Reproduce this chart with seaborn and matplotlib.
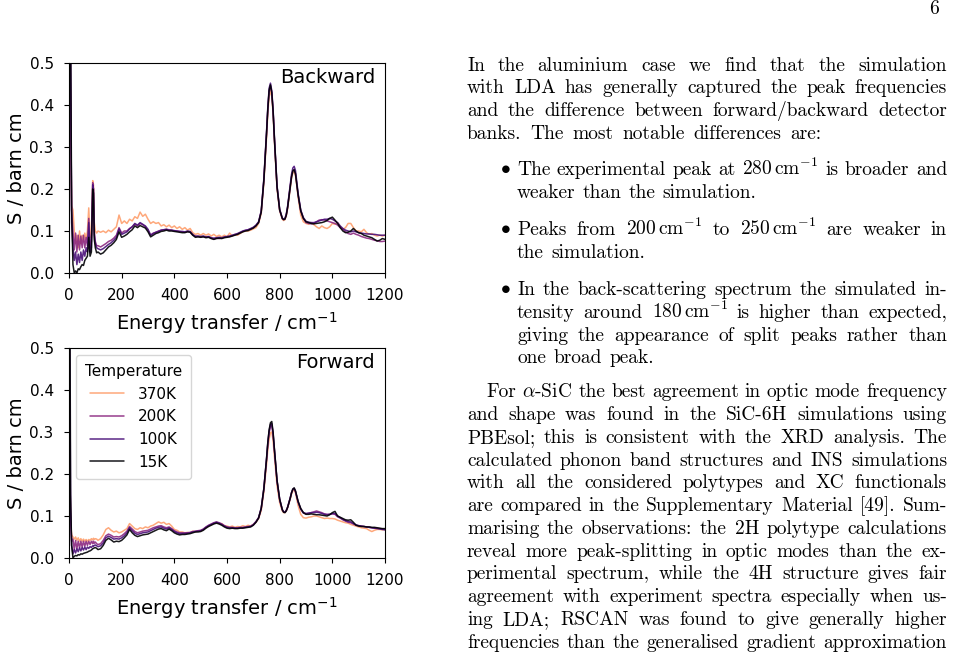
import matplotlib
matplotlib.use("Agg")
import matplotlib.pyplot as plt
import seaborn as sns
import pandas as pd
from matplotlib.transforms import IdentityTransform

# ---------------- data ----------------
energy = [0, 3, 6, 10, 15, 20, 25, 30, 35, 40, 45, 50, 55, 60, 65, 70, 75, 80, 85, 90, 93, 96, 100, 105, 110,
          120, 130, 140, 150, 160, 170, 180, 190, 200, 210,
          220, 230, 240, 250, 260, 270, 280, 290, 300, 310,
          320, 330, 340, 350, 360, 370, 380, 390, 400, 410,
          420, 430, 440, 450, 460, 470, 480, 490, 500, 510,
          520, 530, 540, 550, 560, 570, 580, 590, 600, 610,
          620, 630, 640, 650, 660, 670, 680, 690, 700, 710,
          720, 730, 740, 750, 755, 760, 765, 770, 775, 780, 790, 800, 810, 815, 820, 825, 830, 840, 845, 850,
          855, 860, 865, 870, 880, 890,
          900, 910, 920, 930, 940, 950, 960, 970, 980, 990,
          1000, 1010, 1020, 1030, 1040, 1050, 1060, 1070, 1080, 1090,
          1100, 1110, 1120, 1130, 1140, 1150, 1160, 1170, 1180, 1190, 1200]

temperatures = ["370K", "200K", "100K", "15K"]

backward_15K = [0.62, 0.90, 0.60, 0.15, 0.02, 0.000, 0.005, 0.000, 0.010, 0.008, 0.015, 0.020, 0.018, 0.030, 0.035,
                0.040, 0.085, 0.040, 0.050, 0.200, 0.190, 0.080, 0.060, 0.048, 0.050,
                0.045, 0.048, 0.055, 0.062, 0.066, 0.072, 0.080, 0.098, 0.085, 0.088,
                0.092, 0.098, 0.103, 0.112, 0.108, 0.113, 0.110, 0.107, 0.098, 0.086,
                0.090, 0.094, 0.096, 0.099, 0.100, 0.102, 0.100, 0.100, 0.099, 0.098,
                0.097, 0.096, 0.096, 0.098, 0.097, 0.090, 0.085, 0.086, 0.085, 0.086,
                0.084, 0.085, 0.082, 0.080, 0.082, 0.083, 0.082, 0.084, 0.085, 0.086,
                0.088, 0.090, 0.092, 0.095, 0.098, 0.100, 0.101, 0.104, 0.107, 0.112,
                0.120, 0.145, 0.220, 0.330, 0.390, 0.435, 0.448, 0.430, 0.385, 0.320,
                0.205, 0.150, 0.130, 0.127, 0.128, 0.137, 0.155, 0.205, 0.228, 0.243,
                0.246, 0.236, 0.212, 0.186, 0.148, 0.130,
                0.122, 0.120, 0.118, 0.117, 0.118, 0.119, 0.120, 0.122, 0.125, 0.130,
                0.133, 0.126, 0.118, 0.108, 0.100, 0.096, 0.097, 0.100, 0.106, 0.100,
                0.096, 0.094, 0.090, 0.088, 0.086, 0.084, 0.080, 0.076, 0.078, 0.082, 0.080]

backward_100K = [0.70, 0.85, 0.50, 0.12, 0.06, 0.030, 0.050, 0.020, 0.045, 0.025, 0.050, 0.030, 0.055, 0.040, 0.060,
                 0.050, 0.120, 0.050, 0.060, 0.210, 0.200, 0.090, 0.070, 0.060, 0.058,
                 0.055, 0.058, 0.063, 0.068, 0.072, 0.078, 0.085, 0.105, 0.092, 0.095,
                 0.098, 0.105, 0.110, 0.118, 0.114, 0.120, 0.116, 0.112, 0.104, 0.090,
                 0.094, 0.097, 0.099, 0.102, 0.103, 0.104, 0.102, 0.102, 0.101, 0.100,
                 0.099, 0.099, 0.098, 0.100, 0.099, 0.092, 0.087, 0.088, 0.087, 0.088,
                 0.086, 0.087, 0.084, 0.083, 0.084, 0.085, 0.084, 0.086, 0.087, 0.088,
                 0.090, 0.092, 0.094, 0.097, 0.100, 0.102, 0.103, 0.106, 0.109, 0.114,
                 0.122, 0.148, 0.225, 0.335, 0.395, 0.440, 0.452, 0.434, 0.390, 0.325,
                 0.208, 0.152, 0.131, 0.128, 0.130, 0.140, 0.158, 0.210, 0.235, 0.250,
                 0.254, 0.244, 0.218, 0.190, 0.150, 0.132,
                 0.123, 0.121, 0.120, 0.120, 0.122, 0.124, 0.126, 0.128, 0.128, 0.130,
                 0.128, 0.124, 0.120, 0.112, 0.106, 0.102, 0.100, 0.098, 0.100, 0.098,
                 0.096, 0.095, 0.094, 0.093, 0.093, 0.092, 0.092, 0.091, 0.090, 0.090, 0.090]

backward_200K = [0.60, 0.80, 0.45, 0.15, 0.10, 0.055, 0.095, 0.050, 0.090, 0.055, 0.088, 0.060, 0.090, 0.060, 0.085,
                 0.065, 0.130, 0.060, 0.075, 0.215, 0.200, 0.100, 0.075, 0.065, 0.065,
                 0.062, 0.066, 0.070, 0.075, 0.078, 0.083, 0.090, 0.108, 0.095, 0.100,
                 0.100, 0.106, 0.110, 0.116, 0.112, 0.118, 0.115, 0.110, 0.102, 0.090,
                 0.095, 0.097, 0.100, 0.102, 0.103, 0.104, 0.103, 0.102, 0.100, 0.100,
                 0.099, 0.098, 0.097, 0.099, 0.098, 0.090, 0.088, 0.087, 0.086, 0.087,
                 0.085, 0.086, 0.083, 0.081, 0.083, 0.082, 0.083, 0.085, 0.086, 0.087,
                 0.089, 0.091, 0.093, 0.096, 0.099, 0.101, 0.103, 0.105, 0.108, 0.113,
                 0.121, 0.147, 0.222, 0.330, 0.390, 0.432, 0.445, 0.428, 0.385, 0.320,
                 0.205, 0.150, 0.130, 0.127, 0.129, 0.138, 0.156, 0.205, 0.230, 0.243,
                 0.246, 0.237, 0.212, 0.186, 0.148, 0.130,
                 0.120, 0.118, 0.117, 0.118, 0.122, 0.126, 0.127, 0.126, 0.124, 0.122,
                 0.120, 0.118, 0.114, 0.108, 0.104, 0.098, 0.094, 0.092, 0.095, 0.092,
                 0.090, 0.087, 0.085, 0.083, 0.082, 0.080, 0.078, 0.077, 0.075, 0.075, 0.076]

backward_370K = [0.40, 0.60, 0.35, 0.16, 0.15, 0.100, 0.070, 0.090, 0.060, 0.100, 0.070, 0.090, 0.075, 0.095, 0.080,
                 0.100, 0.155, 0.085, 0.090, 0.220, 0.210, 0.120, 0.100, 0.095, 0.100,
                 0.097, 0.100, 0.096, 0.102, 0.098, 0.104, 0.110, 0.138, 0.118, 0.124,
                 0.118, 0.128, 0.124, 0.134, 0.130, 0.145, 0.135, 0.140, 0.128, 0.118,
                 0.122, 0.118, 0.120, 0.112, 0.115, 0.110, 0.114, 0.108, 0.112, 0.106,
                 0.110, 0.104, 0.108, 0.102, 0.106, 0.096, 0.092, 0.094, 0.090, 0.094,
                 0.090, 0.093, 0.088, 0.092, 0.087, 0.090, 0.086, 0.090, 0.086, 0.095,
                 0.088, 0.092, 0.090, 0.094, 0.098, 0.100, 0.100, 0.102, 0.105, 0.108,
                 0.118, 0.142, 0.215, 0.320, 0.380, 0.420, 0.435, 0.420, 0.380, 0.315,
                 0.200, 0.148, 0.128, 0.125, 0.127, 0.136, 0.152, 0.200, 0.225, 0.238,
                 0.241, 0.232, 0.208, 0.180, 0.138, 0.122,
                 0.118, 0.116, 0.120, 0.115, 0.110, 0.106, 0.112, 0.108, 0.106, 0.110,
                 0.118, 0.116, 0.120, 0.110, 0.104, 0.108, 0.118, 0.118, 0.108, 0.100,
                 0.100, 0.098, 0.104, 0.096, 0.092, 0.094, 0.090, 0.088, 0.090, 0.088, 0.090]

forward_15K = [0.90, 0.70, 0.15, 0.03, 0.000, 0.004, 0.006, 0.005, 0.008, 0.007, 0.010, 0.009, 0.011, 0.012, 0.013,
               0.014, 0.016, 0.017, 0.019, 0.022, 0.023, 0.024, 0.025, 0.023, 0.020,
               0.022, 0.030, 0.042, 0.047, 0.043, 0.038, 0.040, 0.039, 0.042, 0.048,
               0.055, 0.068, 0.060, 0.054, 0.051, 0.053, 0.055, 0.056, 0.057, 0.060,
               0.063, 0.066, 0.069, 0.070, 0.067, 0.065, 0.069, 0.065, 0.060, 0.057,
               0.055, 0.056, 0.056, 0.057, 0.058, 0.060, 0.062, 0.062, 0.063, 0.066,
               0.071, 0.075, 0.078, 0.081, 0.083, 0.081, 0.078, 0.074, 0.071, 0.070,
               0.071, 0.070, 0.070, 0.071, 0.071, 0.072, 0.073, 0.074, 0.078, 0.085,
               0.095, 0.118, 0.165, 0.235, 0.275, 0.305, 0.322, 0.325, 0.300, 0.260,
               0.185, 0.140, 0.115, 0.109, 0.108, 0.112, 0.120, 0.142, 0.155, 0.164,
               0.167, 0.160, 0.148, 0.135, 0.118, 0.108,
               0.104, 0.104, 0.105, 0.104, 0.103, 0.103, 0.102, 0.101, 0.100, 0.103,
               0.108, 0.111, 0.100, 0.097, 0.094, 0.091, 0.090, 0.091, 0.085, 0.078,
               0.076, 0.075, 0.075, 0.074, 0.074, 0.073, 0.073, 0.072, 0.071, 0.070, 0.070]

forward_100K = [0.70, 0.50, 0.12, 0.03, 0.010, 0.020, 0.012, 0.022, 0.015, 0.024, 0.017, 0.025, 0.019, 0.026, 0.020,
                0.026, 0.023, 0.027, 0.025, 0.029, 0.028, 0.030, 0.031, 0.029, 0.027,
                0.029, 0.036, 0.048, 0.052, 0.049, 0.045, 0.046, 0.045, 0.048, 0.053,
                0.060, 0.072, 0.065, 0.059, 0.056, 0.058, 0.060, 0.061, 0.062, 0.065,
                0.068, 0.071, 0.073, 0.074, 0.071, 0.069, 0.072, 0.068, 0.063, 0.060,
                0.058, 0.058, 0.058, 0.059, 0.060, 0.062, 0.063, 0.064, 0.065, 0.068,
                0.073, 0.077, 0.080, 0.083, 0.085, 0.083, 0.080, 0.076, 0.073, 0.072,
                0.072, 0.071, 0.071, 0.072, 0.072, 0.073, 0.074, 0.075, 0.079, 0.086,
                0.096, 0.119, 0.166, 0.236, 0.275, 0.303, 0.318, 0.320, 0.297, 0.258,
                0.184, 0.140, 0.115, 0.110, 0.109, 0.113, 0.121, 0.143, 0.156, 0.164,
                0.166, 0.159, 0.147, 0.134, 0.117, 0.108,
                0.106, 0.107, 0.108, 0.108, 0.109, 0.108, 0.106, 0.104, 0.103, 0.104,
                0.106, 0.106, 0.100, 0.096, 0.092, 0.089, 0.087, 0.086, 0.082, 0.079,
                0.077, 0.076, 0.075, 0.074, 0.073, 0.072, 0.071, 0.070, 0.069, 0.068, 0.067]

forward_200K = [0.33, 0.25, 0.10, 0.04, 0.045, 0.020, 0.042, 0.022, 0.040, 0.024, 0.040, 0.026, 0.040, 0.028, 0.040,
                0.030, 0.040, 0.032, 0.040, 0.034, 0.040, 0.035, 0.038, 0.034, 0.032,
                0.034, 0.042, 0.053, 0.057, 0.054, 0.050, 0.051, 0.050, 0.053, 0.058,
                0.064, 0.075, 0.069, 0.063, 0.060, 0.062, 0.064, 0.065, 0.066, 0.069,
                0.072, 0.074, 0.076, 0.077, 0.074, 0.072, 0.074, 0.070, 0.065, 0.062,
                0.060, 0.060, 0.060, 0.060, 0.061, 0.063, 0.064, 0.065, 0.066, 0.069,
                0.074, 0.078, 0.081, 0.084, 0.086, 0.084, 0.081, 0.077, 0.074, 0.073,
                0.073, 0.072, 0.072, 0.073, 0.073, 0.074, 0.075, 0.076, 0.080, 0.087,
                0.096, 0.118, 0.164, 0.232, 0.270, 0.298, 0.313, 0.316, 0.294, 0.256,
                0.183, 0.139, 0.115, 0.110, 0.109, 0.113, 0.120, 0.142, 0.155, 0.163,
                0.165, 0.158, 0.146, 0.133, 0.116, 0.107,
                0.105, 0.106, 0.108, 0.110, 0.112, 0.110, 0.108, 0.105, 0.104, 0.104,
                0.105, 0.104, 0.098, 0.095, 0.091, 0.088, 0.085, 0.084, 0.081, 0.078,
                0.077, 0.076, 0.075, 0.074, 0.073, 0.072, 0.071, 0.071, 0.070, 0.069, 0.068]

forward_370K = [0.30, 0.22, 0.09, 0.055, 0.050, 0.045, 0.050, 0.042, 0.048, 0.040, 0.046, 0.040, 0.045, 0.040, 0.044,
                0.040, 0.044, 0.042, 0.046, 0.043, 0.047, 0.044, 0.046, 0.045, 0.042,
                0.046, 0.055, 0.068, 0.072, 0.066, 0.062, 0.064, 0.060, 0.062, 0.066,
                0.070, 0.082, 0.076, 0.070, 0.068, 0.072, 0.070, 0.074, 0.072, 0.076,
                0.078, 0.082, 0.086, 0.083, 0.085, 0.080, 0.082, 0.076, 0.068, 0.066,
                0.062, 0.062, 0.060, 0.061, 0.060, 0.064, 0.062, 0.065, 0.064, 0.068,
                0.072, 0.076, 0.079, 0.083, 0.084, 0.082, 0.082, 0.077, 0.076, 0.074,
                0.076, 0.073, 0.075, 0.074, 0.077, 0.075, 0.078, 0.076, 0.080, 0.085,
                0.094, 0.113, 0.158, 0.222, 0.258, 0.283, 0.298, 0.300, 0.280, 0.242,
                0.172, 0.132, 0.112, 0.108, 0.108, 0.112, 0.120, 0.140, 0.152, 0.160,
                0.162, 0.155, 0.140, 0.125, 0.104, 0.096,
                0.095, 0.097, 0.098, 0.100, 0.100, 0.098, 0.096, 0.094, 0.095, 0.094,
                0.094, 0.093, 0.090, 0.088, 0.086, 0.084, 0.083, 0.080, 0.078, 0.076,
                0.074, 0.072, 0.071, 0.070, 0.066, 0.063, 0.066, 0.068, 0.068, 0.067, 0.068]

backward = {"370K": backward_370K, "200K": backward_200K, "100K": backward_100K, "15K": backward_15K}
forward = {"370K": forward_370K, "200K": forward_200K, "100K": forward_100K, "15K": forward_15K}

palette = {"370K": "#fe9f6d", "200K": "#8c2981", "100K": "#4a1079", "15K": "#000004"}


def long_frame(series):
    frames = []
    for t in temperatures:
        vals = series[t]
        n = min(len(energy), len(vals))
        frames.append(pd.DataFrame({"Energy": energy[:n], "S": vals[:n], "Temperature": t}))
    return pd.concat(frames, ignore_index=True)


# ---------------- figure ----------------
sns.set_style("ticks")
plt.rcParams.update({
    "font.family": ["DejaVu Sans"],
    "axes.edgecolor": "black",
    "axes.linewidth": 0.8,
    "xtick.color": "black",
    "ytick.color": "black",
    "xtick.direction": "out",
    "ytick.direction": "out",
    "xtick.major.size": 3.5,
    "ytick.major.size": 3.5,
    "xtick.major.width": 0.8,
    "ytick.major.width": 0.8,
    "xtick.major.pad": 7.2,
    "ytick.major.pad": 7.5,
    "xtick.labelsize": 11,
    "ytick.labelsize": 11,
    "axes.labelsize": 14,
    "axes.labelcolor": "black",
    "text.color": "black",
})

W, H = 954, 655
fig = plt.figure(figsize=(W / 100, H / 100), dpi=100)
ax_b = fig.add_axes([69 / W, 1 - 273 / H, 316 / W, 210 / H])
ax_f = fig.add_axes([69 / W, 1 - 558 / H, 316 / W, 210 / H])

for ax, series, name, show_leg in [(ax_b, backward, "Backward", False), (ax_f, forward, "Forward", True)]:
    df = long_frame(series)
    sns.lineplot(data=df, x="Energy", y="S", hue="Temperature", hue_order=temperatures,
                 palette=palette, estimator=None, linewidth=1.1, alpha=0.9, ax=ax,
                 legend=show_leg)
    ax.set_xlim(0, 1200)
    ax.set_ylim(0, 0.5)
    ax.set_xticks([0, 200, 400, 600, 800, 1000, 1200])
    ax.set_yticks([0.0, 0.1, 0.2, 0.3, 0.4, 0.5])
    ax.set_xlabel(r"Energy transfer / cm$^{-1}$", labelpad=5)
    ax.set_ylabel("S / barn cm", labelpad=2.5)
    for s in ax.spines.values():
        s.set_visible(True)
        s.set_color("black")
    ax.text(0.968, 0.933, name, transform=ax.transAxes, ha="right", va="center", fontsize=14)

leg = ax_f.get_legend()
if leg is not None:
    leg.remove()
handles, labels = ax_f.get_legend_handles_labels()
ax_f.legend(handles, labels, title="Temperature", loc="upper left", fontsize=11, title_fontsize=11,
            frameon=True, borderpad=0.6, handlelength=2.2, handletextpad=0.9, borderaxespad=0.45)

# ---------------- page text ----------------
FS = 14.0
SERIF = "cmr10"
renderer = fig.canvas.get_renderer()
ident = IdentityTransform()


def measure(tok):
    t = fig.text(0, 0, tok, fontsize=FS, family=SERIF, math_fontfamily="cm", transform=ident)
    w = t.get_window_extent(renderer=renderer).width
    t.remove()
    return w


def put_line(line, x0, x1, y):
    toks = line.split(" ")
    ws = [measure(t) for t in toks]
    if len(toks) > 1:
        gap = (x1 - x0 - sum(ws)) / (len(toks) - 1)
    else:
        gap = 0
    x = x0
    for t, w in zip(toks, ws):
        fig.text(x, H - y, t, fontsize=FS, family=SERIF, math_fontfamily="cm", transform=ident,
                 ha="left", va="baseline")
        x += w + gap


CM = r"$\,\mathrm{cm}^{-1}$"
XL, XR = 467.0, 947.0
XB, XI = 499.5, 517.0
LS = 22.76

para1 = [("In the aluminium case we find that the simulation", XR),
         ("with LDA has generally captured the peak frequencies", XR),
         ("and the difference between forward/backward detector", XR),
         ("banks. The most notable differences are:", 821.0)]
y = 70.7
for ln, xr in para1:
    put_line(ln, XL, xr, y)
    y += LS

bullets = [
    (175.0, [("The experimental peak at 280" + CM + " is broader and", XR),
             ("weaker than the simulation.", 756.5)]),
    (235.0, [("Peaks from 200" + CM + " to 250" + CM + " are weaker in", XR),
             ("the simulation.", 645.0)]),
    (295.0, [("In the back-scattering spectrum the simulated in-", XR),
             ("tensity around 180" + CM + " is higher than expected,", XR),
             ("giving the appearance of split peaks rather than", XR),
             ("one broad peak.", 654.0)]),
]
for y0, lines in bullets:
    fig.text(XB, H - y0 + 1.5, r"$\bullet$", fontsize=FS, math_fontfamily="cm", transform=ident,
             ha="left", va="baseline")
    for i, (ln, xr) in enumerate(lines):
        put_line(ln, XI, xr, y0 + i * LS)

para2 = ["For $\\alpha$-SiC the best agreement in optic mode frequency",
         "and shape was found in the SiC-6H simulations using",
         "PBEsol; this is consistent with the XRD analysis. The",
         "calculated phonon band structures and INS simulations",
         "with all the considered polytypes and XC functionals",
         "are compared in the Supplementary Material [49]. Sum-",
         "marising the observations: the 2H polytype calculations",
         "reveal more peak-splitting in optic modes than the ex-",
         "perimental spectrum, while the 4H structure gives fair",
         "agreement with experiment spectra especially when us-",
         "ing LDA; RSCAN was found to give generally higher",
         "frequencies than the generalised gradient approximation"]
y = 397.3
for i, ln in enumerate(para2):
    put_line(ln, 486.7 if i == 0 else XL, XR, y)
    y += LS

fig.text(939, H - 13.5, "6", fontsize=FS, family=SERIF, transform=ident, ha="right", va="baseline")

fig.savefig("out.png", dpi=100)
